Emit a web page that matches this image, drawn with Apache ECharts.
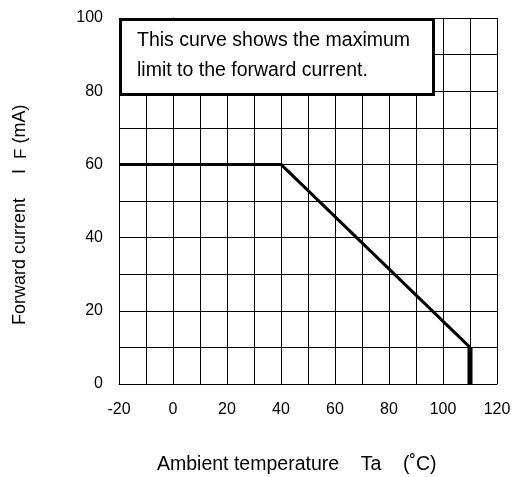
<!DOCTYPE html>
<html>
<head>
<meta charset="utf-8">
<script src="https://cdn.jsdelivr.net/npm/echarts@6/dist/echarts.min.js"></script>
<style>html,body{margin:0;padding:0;background:#fff;}#c{width:516px;height:477px;}</style>
</head>
<body>
<div id="c"></div>
<script>
var temperature = [-20, 40, 110];
var forwardCurrent = [60, 60, 10];
var cutoffTemperature = [110, 110];
var cutoffCurrent = [10, 0];
var xTicks = [-20, 0, 20, 40, 60, 80, 100, 120];
var yTicks = [0, 20, 40, 60, 80, 100];
var noteLines = ['This curve shows the maximum', 'limit to the forward current.'];

var chart = echarts.init(document.getElementById('c'), null, {renderer: 'canvas'});
var font = 'Liberation Sans, Arial, sans-serif';
var mainData = temperature.map(function (t, i) { return [t, forwardCurrent[i]]; });
var cutData = cutoffTemperature.map(function (t, i) { return [t, cutoffCurrent[i]]; });

chart.setOption({
  animation: false,
  backgroundColor: '#fff',
  grid: {left: 119, right: 19, top: 18, bottom: 93},
  xAxis: {
    type: 'value', min: -20, max: 120, interval: 10,
    axisLine: {show: true, onZero: false, lineStyle: {color: '#000', width: 1}},
    axisTick: {show: false},
    splitLine: {show: true, lineStyle: {color: '#000', width: 1}},
    axisLabel: {
      color: '#000', fontFamily: font, fontSize: 16, margin: 18,
      formatter: function (v) { return xTicks.indexOf(v) >= 0 ? String(v) : ''; }
    }
  },
  yAxis: {
    type: 'value', min: 0, max: 100, interval: 10,
    axisLine: {show: true, lineStyle: {color: '#000', width: 1}},
    axisTick: {show: false},
    splitLine: {show: true, lineStyle: {color: '#000', width: 1}},
    axisLabel: {
      color: '#000', fontFamily: font, fontSize: 16, margin: 16,
      formatter: function (v) { return yTicks.indexOf(v) >= 0 ? String(v) : ''; }
    }
  },
  series: [
    {type: 'line', data: mainData, symbol: 'none', lineStyle: {color: '#000', width: 3}, z: 5},
    {type: 'line', data: cutData, symbol: 'none', lineStyle: {color: '#000', width: 5}, z: 5}
  ],
  graphic: [
    {type: 'rect', left: 119, top: 18, z: 100,
     shape: {width: 313, height: 75},
     style: {fill: '#fff', stroke: '#000', lineWidth: 3}},
    {type: 'text', x: 137, y: 41, z: 101,
     style: {text: noteLines[0], fill: '#000', font: '19.5px ' + font, verticalAlign: 'middle'}},
    {type: 'text', x: 137, y: 71, z: 101,
     style: {text: noteLines[1], fill: '#000', font: '19.5px ' + font, verticalAlign: 'middle'}},
    {type: 'text', x: 157, y: 465, z: 101,
     style: {text: 'Ambient temperature    Ta    (\u02daC)', fill: '#000', font: '19.5px ' + font, verticalAlign: 'middle'}},
    {type: 'text', x: 11, y: 325, rotation: Math.PI / 2, z: 101,
     style: {text: 'Forward current', fill: '#000', font: '18px ' + font, verticalAlign: 'top'}},
    {type: 'text', x: 11, y: 174, rotation: Math.PI / 2, z: 101,
     style: {
       text: '{a|I  }{s|F}{a| (mA)}',
       rich: {
         a: {fontSize: 18, fontFamily: font, fill: '#000'},
         s: {fontSize: 17, fontFamily: font, fill: '#000', padding: [2, 0, 0, 0]}
       },
       verticalAlign: 'top'
     }}
  ]
});
</script>
</body>
</html>
